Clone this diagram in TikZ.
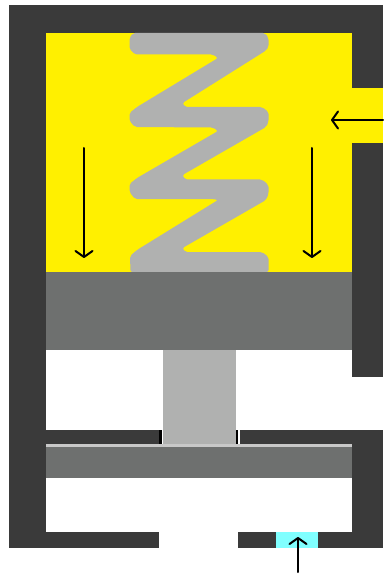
\documentclass[tikz,border=0pt]{standalone}
\usetikzlibrary{arrows.meta}
\definecolor{wallc}{HTML}{3A3A3A}
\definecolor{yel}{HTML}{FFF000}
\definecolor{pist}{HTML}{6E706F}
\definecolor{rodc}{HTML}{B0B1B0}
\definecolor{strip}{HTML}{C8C8C8}
\definecolor{cyanc}{HTML}{80FFFF}
\tikzset{
  flowarrow/.style={draw=black,line width=2pt,line cap=round,-{Straight Barb[length=6pt,width=17pt,line width=2pt,round]}},
  springshape/.style={fill=rodc,rounded corners=2pt}
}
\begin{document}
\begin{tikzpicture}[x=1pt,y=-1pt]
\useasboundingbox (0,0) rectangle (383,577);
\fill[white] (0,0) rectangle (383,577);
% housing
\fill[wallc] (8.5,5) rectangle (383,548);
% yellow chamber and port
\fill[yel] (46,33) rectangle (352,272);
\fill[yel] (352,88) rectangle (383,143);
% spring
\path[springshape]
  (133,33) -- (265,33) -- (268.5,38) -- (268.5,47) -- (266,50.5)
  -- (182.5,103) -- (185,107) -- (262,107) -- (268.5,112) -- (268.5,122) -- (266,127)
  -- (182.5,175) -- (185,179.5) -- (262,179.5) -- (268.5,185) -- (268.5,194) -- (266,200)
  -- (182.5,248) -- (185,252) -- (262,252) -- (268.5,257) -- (268.5,272)
  -- (130.5,272) -- (130,256) -- (137,250)
  -- (218,200) -- (213,199) -- (135,199) -- (129.5,192) -- (129.5,184) -- (137,178)
  -- (218,131) -- (213,127.5) -- (135,127) -- (129.5,121) -- (129.5,113) -- (137,107)
  -- (218,58) -- (213,54.5) -- (135,54.5) -- (129.5,49) -- (129.5,38) -- cycle;
% upper piston
\fill[pist] (46,272) rectangle (352,350);
% middle white chamber
\fill[white] (46,350) rectangle (352,430);
\fill[white] (352,377) rectangle (383,430);
% rod
\fill[rodc] (163,350) rectangle (236,444);
% gap beside the rod and seal marks
\fill[white] (161.5,430) rectangle (163,444);
\fill[white] (238,430) rectangle (239.5,444);
\fill[black] (159,430) rectangle (161.5,444);
\fill[black] (235.5,430) rectangle (238,444);
% lower piston
\fill[strip] (46,444) rectangle (351.5,447);
\fill[pist] (46,447) rectangle (351.5,478);
% lower white chamber
\fill[white] (46,478) rectangle (351.5,532);
\fill[white] (159,532) rectangle (238,548);
\fill[cyanc] (276,532) rectangle (318,548);
% arrows
\coordinate (a1s) at (84,148); \coordinate (a1e) at (84,258);
\coordinate (a2s) at (312,148); \coordinate (a2e) at (312,258);
\coordinate (a3s) at (383,120); \coordinate (a3e) at (331,120);
\coordinate (a4s) at (298,572); \coordinate (a4e) at (298,537);
\draw[flowarrow] (a1s) -- (a1e);
\draw[flowarrow] (a2s) -- (a2e);
\draw[flowarrow] (a3s) -- (a3e);
\draw[flowarrow] (a4s) -- (a4e);
\end{tikzpicture}
\end{document}
